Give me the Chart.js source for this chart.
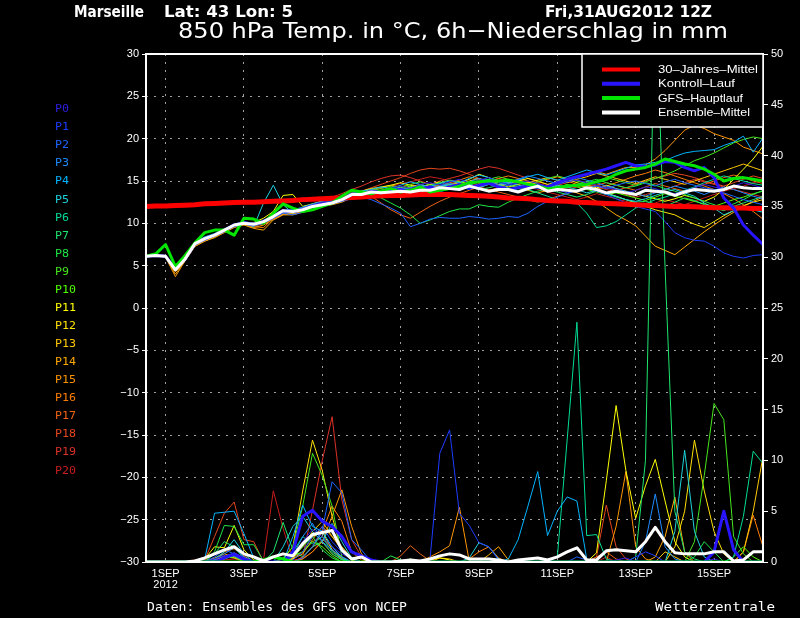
<!DOCTYPE html>
<html>
<head>
<meta charset="utf-8">
<title>Marseille 850 hPa Ensemble</title>
<script src="https://cdn.jsdelivr.net/npm/chart.js@4/dist/chart.umd.min.js"></script>
<style>
  html, body { margin: 0; padding: 0; background: #000; }
  #wrap { width: 800px; height: 618px; }
</style>
</head>
<body>
<div id="wrap"><canvas id="chart" width="800" height="618"></canvas></div>
<script>
// ===== Time axis (hours after 31AUG2012 12Z, 6h steps) =====
const stepHours = 6;
const hourMax = 378;
const tickHours = [12, 60, 108, 156, 204, 252, 300, 348];
const tickText = [['1SEP', '2012'], '3SEP', '5SEP', '7SEP', '9SEP', '11SEP', '13SEP', '15SEP'];

// ===== 850 hPa temperature (°C) =====
const tempClimate = [
  12.0,12.05,12.05,12.1,12.15,12.2,12.3,12.35,
  12.4,12.45,12.5,12.5,12.55,12.6,12.65,12.7,
  12.8,12.85,12.9,12.95,13.0,13.05,13.1,13.2,
  13.25,13.3,13.3,13.35,13.4,13.4,13.4,13.4,
  13.35,13.3,13.25,13.2,13.1,13.0,12.95,12.9,
  12.8,12.7,12.65,12.6,12.5,12.45,12.4,12.35,
  12.3,12.25,12.2,12.15,12.1,12.05,12.0,12.0,
  11.95,11.9,11.85,11.85,11.8,11.8,11.75,11.75
];
const tempControl = [
  6.1,6.2,6.1,4.6,5.8,7.6,8.2,8.6,
  9.2,9.8,10.0,9.9,10.2,10.8,11.5,11.4,
  11.6,12.0,12.3,12.5,12.8,13.4,13.5,13.7,
  13.6,13.9,14.0,13.8,14.1,14.3,14.0,14.3,
  14.6,14.2,14.5,14.8,14.3,14.0,14.2,14.4,
  14.5,14.3,14.8,15.2,15.5,15.8,16.1,16.4,
  16.8,17.2,16.8,16.7,16.9,17.3,17.2,16.6,
  16.2,16.6,15.4,13.0,11.8,9.8,8.6,7.5
];
const tempGfs = [
  6.1,6.4,7.5,4.9,6.2,7.7,8.9,9.2,
  9.2,8.6,10.6,10.5,10.0,11.2,12.3,11.8,
  11.4,11.6,12.0,12.4,13.2,13.9,13.7,13.5,
  13.8,14.1,13.7,13.9,14.3,13.7,13.9,14.1,
  14.4,14.8,14.9,15.0,15.0,15.1,14.9,14.6,
  14.4,14.1,14.2,14.4,14.5,14.6,14.9,15.2,
  15.8,16.2,16.4,16.6,17.0,17.6,17.3,17.0,
  16.8,16.4,15.8,15.0,15.3,15.4,15.2,15.0
];
const tempMean = [
  6.1,6.2,6.1,4.5,5.8,7.6,8.2,8.6,
  9.2,9.8,10.0,9.9,10.2,10.8,11.5,11.4,
  11.6,12.0,12.2,12.4,12.8,13.4,13.4,13.7,
  13.6,13.7,13.8,13.7,13.9,13.9,14.2,14.1,
  14.0,14.4,14.1,13.8,14.0,14.0,13.7,14.1,
  14.4,13.8,14.0,13.9,13.8,14.2,14.0,13.6,
  13.8,13.6,13.4,13.9,13.8,13.7,13.3,13.7,
  14.0,13.9,13.8,14.0,14.4,14.2,14.1,14.1
];
const tempP0 = [
  6.1,6.2,6.0,4.5,5.9,7.7,8.3,8.7,
  9.3,9.9,10.2,10.0,10.4,11.0,11.6,11.5,
  11.8,12.2,12.5,12.8,13.1,13.6,13.5,13.9,
  13.8,14.2,14.4,14.1,14.6,14.8,14.5,14.9,
  15.2,14.8,15.1,15.4,14.9,14.6,14.8,15.0,
  14.7,14.3,14.6,14.9,15.1,14.8,14.5,14.2,
  14.0,13.6,13.9,14.3,14.1,13.7,13.5,13.8,
  14.2,14.6,14.3,14.0,14.4,14.8,14.5,14.2
];
const tempP1 = [
  6.1,6.3,6.1,4.7,5.8,7.5,8.0,8.5,
  9.0,9.7,9.9,9.8,10.1,10.6,11.3,11.3,
  11.5,11.9,12.1,12.3,12.7,13.2,13.3,13.5,
  13.4,13.6,13.9,13.5,13.8,14.0,13.7,14.1,
  14.3,14.0,14.4,14.6,14.2,14.5,14.8,14.4,
  14.1,14.3,14.0,13.6,13.9,14.2,13.8,13.4,
  12.9,12.4,12.0,11.7,11.4,10.2,8.9,8.3,
  8.0,7.9,7.3,6.5,6.1,5.9,6.2,6.3
];
const tempP2 = [
  6.0,6.2,6.1,4.6,5.7,7.4,8.1,8.5,
  9.1,9.6,9.9,9.7,10.0,10.6,11.2,11.0,
  11.3,11.7,12.0,12.3,12.6,12.9,13.1,12.8,
  12.3,11.8,11.2,9.6,10.0,10.5,10.7,10.6,
  10.6,10.8,10.7,10.5,10.6,10.8,10.7,11.2,
  12.0,12.6,13.1,13.5,13.9,14.2,14.4,14.1,
  14.5,14.8,15.0,14.7,14.4,14.9,15.2,14.8,
  14.5,14.2,14.0,13.6,13.2,12.8,12.5,12.2
];
const tempP3 = [
  6.1,6.2,6.2,4.6,5.8,7.6,8.2,8.7,
  9.2,9.8,10.1,9.9,10.3,10.9,11.4,11.3,
  11.7,12.1,12.3,12.6,12.9,13.4,13.6,13.8,
  13.9,14.1,13.8,14.2,14.5,14.1,14.4,14.7,
  14.5,14.9,15.3,15.0,14.6,14.9,15.2,15.6,
  15.3,15.0,14.7,14.9,15.4,15.1,14.8,14.4,
  14.1,13.8,13.5,13.2,13.6,14.0,14.4,14.1,
  13.8,13.4,13.9,14.3,14.0,13.6,13.2,12.9
];
const tempP4 = [
  6.1,6.3,6.1,4.6,5.9,7.7,8.3,8.6,
  9.2,9.9,10.2,10.0,10.3,10.9,11.5,11.6,
  11.9,12.3,12.6,12.8,13.2,13.5,13.8,14.0,
  14.3,14.1,14.5,14.9,14.6,14.3,14.7,15.0,
  14.8,15.3,15.7,15.4,15.0,14.7,15.1,15.5,
  15.8,15.4,15.1,15.5,15.9,16.3,16.0,15.7,
  16.1,16.5,16.9,17.0,17.2,17.4,17.9,18.3,
  18.5,18.6,18.7,19.2,19.6,20.3,18.4,20.1
];
const tempP5 = [
  6.1,6.2,6.1,4.7,5.9,7.8,8.4,8.8,
  9.3,9.8,10.0,9.6,12.4,14.5,12.2,11.2,
  11.6,12.0,12.3,12.5,12.8,13.3,13.5,13.6,
  13.8,14.0,14.2,13.9,14.3,14.0,14.3,14.6,
  14.2,14.5,14.2,14.6,14.4,14.8,14.5,14.3,
  14.6,14.2,14.5,14.3,14.0,13.6,13.9,13.5,
  13.2,12.8,12.6,12.9,13.3,13.7,14.0,13.6,
  13.2,12.4,11.8,11.0,11.5,12.0,11.6,11.3
];
const tempP6 = [
  6.1,6.2,6.0,4.6,5.8,7.6,8.1,8.5,
  9.1,9.7,10.0,9.9,10.1,10.7,11.3,11.4,
  11.6,12.0,12.2,12.4,12.7,13.1,13.4,13.7,
  13.8,13.6,13.9,14.2,14.0,14.4,14.7,14.3,
  14.1,14.5,14.9,15.2,14.8,14.5,14.3,14.0,
  13.6,13.2,12.8,12.6,12.4,11.2,9.5,9.7,
  10.2,11.0,11.8,12.3,12.8,13.1,13.5,13.9,
  14.3,14.8,15.2,15.6,15.3,15.0,14.7,14.5
];
const tempP7 = [
  6.1,6.2,6.1,4.6,5.8,7.6,8.2,8.6,
  9.1,9.8,10.0,9.9,10.2,10.8,11.4,11.5,
  11.6,12.0,12.3,12.4,12.8,13.3,13.4,13.8,
  13.5,13.9,14.0,13.8,14.1,14.3,14.1,14.4,
  14.6,14.3,14.0,14.2,14.5,14.2,13.9,14.1,
  14.4,14.0,13.7,13.4,13.1,13.4,13.8,13.5,
  13.1,12.8,12.5,12.6,12.3,12.0,12.5,13.0,
  12.7,12.2,11.8,11.5,12.0,12.4,12.8,13.2
];
const tempP8 = [
  6.1,6.2,6.0,4.5,5.8,7.5,8.2,8.6,
  9.2,9.8,10.1,9.9,10.2,10.8,11.5,11.4,
  11.7,12.1,12.3,12.5,12.8,13.2,13.4,13.3,
  13.0,12.4,11.8,11.0,10.0,10.4,10.9,11.4,
  11.7,11.7,12.2,12.0,11.9,12.5,13.0,13.4,
  13.8,14.1,14.4,14.2,14.6,14.9,15.2,14.8,
  14.5,14.2,14.4,14.8,14.5,14.1,13.8,13.4,
  13.0,12.6,12.2,11.8,12.3,12.8,13.4,13.9
];
const tempP9 = [
  6.1,6.2,6.1,4.6,5.9,7.7,8.2,8.7,
  9.3,9.9,10.1,10.0,10.3,10.9,11.5,11.5,
  11.8,12.2,12.4,12.7,13.0,13.5,13.6,13.9,
  14.1,14.4,14.2,14.6,14.9,14.5,14.8,15.1,
  14.9,14.6,14.9,15.2,15.5,15.2,14.9,14.6,
  14.9,15.3,15.6,15.3,15.0,14.7,15.0,15.4,
  15.1,14.8,14.5,14.9,15.3,15.7,16.2,16.8,
  17.4,17.8,18.3,18.9,19.5,19.9,20.2,20.0
];
const tempP10 = [
  6.1,6.2,6.1,4.6,5.8,7.6,8.1,8.6,
  9.2,9.7,10.0,9.8,10.1,10.7,11.4,11.4,
  11.6,12.0,12.2,12.5,12.8,13.3,13.5,13.7,
  13.6,13.9,14.1,14.4,14.2,14.0,14.3,14.6,
  14.4,14.1,14.4,14.7,14.3,14.0,14.2,14.5,
  14.2,13.9,14.2,14.6,14.3,14.0,13.7,13.4,
  13.6,13.3,13.0,12.7,13.1,13.5,13.2,12.9,
  12.6,12.3,12.0,12.4,12.8,13.1,13.5,13.8
];
const tempP11 = [
  6.1,6.2,6.1,4.7,5.9,7.6,8.2,8.7,
  9.2,9.8,10.0,10.1,10.6,11.4,13.3,13.4,
  12.0,12.3,12.6,12.8,13.1,13.6,13.8,14.1,
  14.3,14.5,14.8,14.5,14.2,14.6,14.9,14.5,
  14.8,15.2,15.8,15.4,15.0,14.7,15.0,15.3,
  15.0,14.6,14.9,15.2,14.8,14.5,14.2,14.5,
  14.1,13.8,13.5,13.2,12.9,12.6,12.9,13.3,
  13.0,12.6,13.1,14.0,15.2,16.4,17.6,19.1
];
const tempP12 = [
  6.1,6.2,6.0,4.5,5.8,7.5,8.0,8.5,
  9.1,9.7,10.0,9.8,10.1,10.7,11.3,11.3,
  11.5,11.9,12.2,12.4,12.7,13.2,13.4,13.6,
  13.9,14.2,14.0,14.3,14.6,14.3,14.0,14.4,
  14.7,15.0,15.3,14.9,14.6,14.3,14.6,14.9,
  14.6,14.3,14.0,14.3,14.6,14.2,13.9,13.6,
  13.2,12.8,12.4,12.0,11.6,11.3,11.0,10.4,
  9.9,9.5,10.2,10.9,11.5,12.1,12.5,12.8
];
const tempP13 = [
  6.1,6.2,6.1,4.4,5.7,7.4,8.0,8.4,
  9.0,9.6,9.9,9.7,10.0,10.6,11.2,11.2,
  11.5,11.9,12.1,12.4,12.7,13.1,13.3,13.5,
  13.7,13.5,13.8,14.1,13.9,14.2,14.5,14.2,
  14.0,14.3,14.6,14.9,14.5,14.8,15.1,14.8,
  15.1,15.4,15.1,14.8,15.2,15.5,15.9,15.6,
  15.3,15.0,14.7,15.1,15.5,15.2,14.9,14.6,
  15.0,15.4,15.8,16.2,16.6,17.0,16.6,16.2
];
const tempP14 = [
  6.1,6.1,6.0,4.0,5.6,7.3,7.9,8.3,
  8.9,9.5,9.8,9.4,9.2,10.4,11.0,11.0,
  11.3,11.7,12.0,12.2,12.5,13.0,13.2,13.4,
  13.6,13.3,13.6,13.9,13.7,14.0,14.3,14.0,
  14.2,14.5,14.2,13.9,14.2,14.5,14.2,13.9,
  13.6,13.9,14.2,13.9,13.6,13.2,12.6,11.8,
  11.0,10.4,9.7,8.5,7.3,6.8,6.3,7.2,
  8.1,9.0,9.8,10.6,11.3,12.0,12.6,13.1
];
const tempP15 = [
  6.1,6.2,6.0,3.7,5.6,7.3,7.9,8.4,
  9.0,9.6,9.9,9.5,9.8,10.5,11.1,11.1,
  11.4,11.8,12.1,12.3,12.6,13.1,13.3,13.6,
  13.8,14.0,13.7,14.0,14.3,14.6,14.3,14.6,
  14.9,14.6,14.3,14.6,14.9,15.2,14.9,14.6,
  14.9,15.2,15.5,15.2,15.5,15.8,16.1,15.8,
  16.2,16.6,16.6,16.9,17.6,18.6,19.8,21.0,
  21.6,21.2,20.6,20.2,19.8,19.0,18.6,18.2
];
const tempP16 = [
  6.1,6.2,6.1,4.3,5.7,7.4,8.0,8.5,
  9.1,9.7,10.0,9.6,9.5,10.6,11.3,11.2,
  11.5,11.9,12.2,12.5,12.8,13.4,13.7,14.0,
  14.2,14.5,14.3,14.6,14.3,14.0,14.4,14.8,
  15.1,15.5,15.2,14.9,15.3,15.6,15.3,15.0,
  14.7,14.4,14.7,15.0,14.6,14.3,14.0,14.4,
  14.8,15.2,15.6,15.9,16.3,16.0,15.6,15.2,
  14.8,14.4,14.0,13.5,12.9,12.2,11.4,10.5
];
const tempP17 = [
  6.1,6.2,6.0,4.4,5.7,7.5,8.1,8.5,
  9.1,9.6,9.9,9.7,10.0,10.5,11.1,11.1,
  11.5,11.9,12.3,12.6,13.0,13.5,13.6,13.2,
  12.4,11.6,11.0,10.6,11.3,12.0,12.6,13.1,
  13.5,13.9,14.3,14.0,13.7,13.4,13.1,12.8,
  12.5,12.8,13.2,13.5,13.9,14.2,14.5,14.8,
  14.5,14.2,13.9,14.3,14.7,14.4,14.1,13.8,
  14.2,14.6,15.0,15.4,15.7,15.4,15.0,14.7
];
const tempP18 = [
  6.1,6.2,6.1,4.6,5.8,7.6,8.2,8.6,
  9.2,9.8,10.1,9.9,10.2,10.7,11.4,11.4,
  11.7,12.1,12.4,12.7,13.0,13.5,13.8,14.2,
  14.6,15.0,15.4,15.9,16.3,16.5,16.4,16.5,
  16.2,15.8,15.3,14.9,14.5,14.8,15.1,14.8,
  14.5,14.2,14.5,14.8,15.1,14.8,14.5,14.2,
  13.9,14.2,14.6,15.0,15.3,15.6,15.9,15.7,
  15.4,15.0,14.7,14.4,14.8,15.2,15.6,15.3
];
const tempP19 = [
  6.1,6.2,6.1,4.5,5.8,7.6,8.1,8.6,
  9.2,9.8,10.1,9.9,10.3,10.9,11.5,11.5,
  11.8,12.3,12.7,13.1,13.5,14.0,14.4,14.9,
  15.3,15.6,15.7,15.4,15.0,14.6,15.0,15.3,
  15.6,16.0,16.4,16.7,16.5,16.1,15.7,15.3,
  14.9,14.6,14.3,14.0,14.3,14.6,14.3,14.0,
  13.7,13.4,13.1,13.4,13.7,14.0,14.4,14.8,
  15.2,14.9,14.6,14.3,14.0,13.7,13.4,13.1
];
const tempP20 = [
  6.1,6.2,6.0,4.5,5.8,7.5,8.1,8.5,
  9.1,9.7,10.0,9.8,10.1,10.8,11.4,11.3,
  11.6,12.0,12.3,12.6,12.9,13.3,13.6,13.9,
  14.1,14.4,14.7,14.9,15.2,15.5,15.3,15.0,
  14.7,14.4,14.7,15.0,15.3,15.0,14.6,14.3,
  14.0,13.7,13.4,13.1,12.8,13.1,13.5,13.2,
  12.9,12.6,12.3,12.0,12.4,12.8,12.5,12.2,
  12.6,13.0,13.4,13.8,14.1,14.4,14.8,15.1
];

// ===== 6h precipitation (mm) =====
const rainControl = [
  0,0,0,0,0,0,0,0,0.4,0.8,0.3,0,0,0,0,1.0,
  4.5,5.1,4.0,3.5,2.5,1.0,0.6,0.2,0,0,0,0,0,0,0,0,
  0,0,0,0,0,0,0,0,0,0,0,0,0,0,0,0,
  0,0,0,0,0,0,0,0,0,0,1.0,5.0,1.2,0,0,0
];
const rainGfs = [
  0,0,0,0,0,0,0,0,0,0,0,0,0.2,0.5,0.3,0,
  0,0,0,0,0,0,0,0,0,0,0,0,0,0,0,0,
  0,0,0,0,0,0,0,0,0,0,0,0,0,0,0,0,
  0,0,0,0,0,0,0,0,0,0,0,0,0,0,0,0
];
const rainMean = [
  0,0,0,0,0,0.1,0.4,0.8,1.2,1.5,0.8,0.5,0.1,0.5,0.8,0.6,
  1.8,2.7,2.9,3.1,1.2,0.3,0.5,0,0,0,0.1,0.2,0.1,0.3,0.6,0.8,
  0.7,0.3,0.3,0.3,0.2,0,0.2,0.3,0.4,0.2,0.5,1.0,1.4,0.2,0.2,1.1,
  1.2,1.1,1.0,2.0,3.4,2.0,0.9,0.8,0.8,0.8,1.0,1.0,0.1,0.2,1.0,1.0
];
const rainP0 = [
  0,0,0,0,0,0,0,0.3,0.6,0.8,0.2,0,0,0,0,0.5,
  2.0,3.2,2.5,1.5,0.8,0.3,0,0,0,0,0,0,0,0,0,0,
  0,0,0,0,0,0,0,0,0,0,0,0,0,0,0,0,
  0.2,0.4,0,0,0,0,0,0,0,0,0.3,0,0,0,0,0
];
const rainP1 = [
  0,0,0,0,0,0,0,0,0.4,0.6,0.1,0,0,0,0,0.2,
  1.0,2.5,3.5,2.0,1.0,0.3,0,0,0,0,0,0,0,0.3,10.7,13.0,
  4.8,3.6,1.9,1.5,0.2,0,0,0,0,0,0,0,0,0,0,0,
  0,0,0.5,1.0,0.6,0,0,0,0,0,0,0,0,0,0,0
];
const rainP2 = [
  0,0,0,0,0,0,0,0.5,1.2,0.8,0.3,0,0,0,0,0,
  0.4,1.5,3.2,7.9,6.8,2.2,1.2,0,0,0,0,0,0,0,0,0,
  0,0,0,0,0,0,0,0,0,0,0,0,0.5,0.2,0,0,
  0,0,0,0,0,0,0,0,0,0,0,0,0,0,0,0
];
const rainP3 = [
  0,0,0,0,0,0,0,0.2,0.8,1.4,0.5,0,0,0,0,0.6,
  2.5,3.8,2.0,1.2,0.5,0,0,0,0,0,0,0,0,0,0,0,
  0,0,0,0,0,0,0,0,0,0,0,0,0,0,0,0,
  0,0,0,2.0,6.7,1.5,0.3,0,0,0,0,0,0,0,0,0
];
const rainP4 = [
  0,0,0,0,0,0,0.3,4.8,4.9,5.0,2.8,0.4,0,0,0,2.5,
  5.6,3.5,3.0,1.5,0.5,0,0,0,0,0,0,0,0,0,0,0,
  0,0,0,0,0,0.3,2.2,5.5,8.9,2.6,5.0,6.4,6.0,0.3,0,0,
  0,0,0,0,0,0,0,0,0,0,0,0,0,0,0,0
];
const rainP5 = [
  0,0,0,0,0,0,0,0.3,1.0,2.2,0.8,0,0,0,1.5,3.5,
  4.5,3.0,2.0,3.8,2.0,0.4,0,0,0,0,0,0,0,0,0,0,
  0,0.4,1.9,1.5,0.3,0,0,0,0,0,0,0,0,0,0,0,
  0,0,0,0,0,0,3.0,11.0,3.0,0.5,0,0,0,0,0,0
];
const rainP6 = [
  0,0,0,0,0,0,0,0,0.5,0.9,0.2,0,0,0,0,1.0,
  2.5,1.8,2.5,1.0,0.3,0,0,0,0,0,0,0,0,0,0,0,
  0,0,0,0,0,0,0,0,0,0,0.5,12.0,23.6,2.6,2.7,0.3,
  0,0,0,0,0,0,0,0,0,0,0,0,0.5,4.5,10.9,9.7
];
const rainP7 = [
  0,0,0,0,0,0,0,0.8,2.0,1.5,0.3,0,0,1.0,3.9,1.2,
  0.5,1.5,2.0,0.8,0.2,0,0,0,0,0,0,0,0,0,0,0,
  0,0,0,0,0,0,0,0,0,0,0,0,0,0,0,0,
  0,0,0.5,10.0,57.0,29.0,5.0,1.0,0.3,0,0,0,0,0,0,0
];
const rainP8 = [
  0,0,0,0,0,0,0,1.0,3.6,3.5,1.7,1.7,0.1,0,0,0.5,
  1.5,2.5,1.2,0.4,0,0,0,0,0,0.6,0.2,0,0,0,0,0,
  0,0,0,0,0,0,0,0,0,0,0,0,0,0,0,0,
  0,0,0,0,0,0,0,0,0.5,2.0,1.0,0,0,0,0,0
];
const rainP9 = [
  0,0,0,0,0,0,0,0,0.3,0.6,0.2,0,0,0,0.4,1.5,
  5.5,10.7,8.5,5.5,0.5,0,0,0,0,0,0,0,0,0,0,0,
  0,0,0,0,0,0,0,0,0,0,0,0,0,0,0,0,
  0,0,0,0,0,0,0,0,2.0,8.5,15.6,14.0,2.5,0.8,0,0
];
const rainP10 = [
  0,0,0,0,0,0,0,0,0.4,0.5,0,0,0,0,0.3,0.6,
  1.0,2.0,1.5,0.6,0,0,0,0,0,0,0,0.3,0,0,0,0,
  0,0,0,0,0,0,0,0,0,0,0,0,0,0,0,0,
  0,0,0,0,0,0,0,0,0,0,0,0,0.5,1.5,0.5,0
];
const rainP11 = [
  0,0,0,0,0,0,0.3,1.5,1.4,3.6,1.2,0.2,0,0,0,0.3,
  1.0,2.5,3.0,1.2,0.3,0,0,0,0,0,0,0,0,0.2,0.4,0.2,
  0,0,0,0,0,0,0,0,0,0,0,0,0,0,0.9,8.0,
  15.4,9.0,4.3,7.5,10.1,6.0,2.0,0.5,0,0,0,0,0,0,0,0
];
const rainP12 = [
  0,0,0,0,0,0,0,0.2,0.5,0.8,0.2,0,0,0,0.3,1.5,
  7.0,12.0,9.0,4.5,1.0,0.2,0,0,0,0,0,0,0,0,0,0,
  0,0,0,0,0,0,0,0,0,0,0,0,0,0,0,0,
  0,0,0,0,0,0,1.5,5.0,12.0,7.0,3.0,0.8,0,0,0,0
];
const rainP13 = [
  0,0,0,0,0,0,0,0.2,0.6,0.4,0.1,0,0,0,0,0.4,
  1.5,3.0,4.0,2.5,1.5,0.4,0,0,0,0,0,0,0,0,0.4,0.3,
  0,0,0,0,0,0,0,0,0,0,0,0,0,0,0,0,
  0,0,0,0,0,1.0,0.5,0,0,0,0,0,0,1.0,5.0,10.4
];
const rainP14 = [
  0,0,0,0,0,0,0,0,0.3,0.9,0.4,0,0,0,0,0.3,
  0.8,2.2,3.5,2.5,1.2,0.3,0,0,0,0,0,0,0,0,0,0,
  0,0,0,0.7,1.5,0.2,0,0,0,0,0,0,0,0,0,0,
  0,0,0,0,0.5,2.5,6.4,1.0,0,0,0,0,0,0,0,0
];
const rainP15 = [
  0,0,0,0,0,0,0,0.4,0.8,0.5,0.2,0,0,0,0,0,
  0.3,1.0,2.0,4.5,7.1,3.5,0.8,0,0,0,0,0,0,0.5,1.0,1.6,
  5.4,0.1,0,0,0,0,0,0,0,0,0,0,0,0,0,0,
  3.5,8.9,1.5,0.3,0,0,0,0,0,0,0,0,0,0,0,0
];
const rainP16 = [
  0,0,0,0,0,0,0,0,1.0,1.3,0.6,0,0,0,0,0,
  0.4,1.5,3.0,5.5,4.0,1.0,0.2,0,0,0,0,0,0,0,0,0,
  0,0.3,1.0,1.5,0.4,0,0,0,0,0,0,0,0,0,0,0,
  0,0,0,0,0,0,0,0,0,0,0,0,0,1.0,4.6,1.5
];
const rainP17 = [
  0,0,0,0,0,0.2,0.3,0.2,0.5,0.4,0.2,0,0,0,0,0.5,
  1.0,2.0,2.5,1.5,0.4,0,0,0,0,0,0.6,1.6,0.8,0.1,0,0,
  0,0,0,0,0,0,0,0,0,0,0,0,0,0,0.5,1.0,
  0.3,0,0,0,0,0,0,0,0,0,0,0,0,0,0,0
];
const rainP18 = [
  0,0,0,0,0,0,0.2,2.5,4.8,5.9,2.2,2.0,0,0,0,0,
  0.5,1.5,2.0,0.8,0.2,0,0,0,0,0,0,0,0,0,0,0,
  0,0,0,0,0,0,0,0,0,0,0,0,0,0,0.5,5.6,
  1.5,0.3,0,0,0,0,0,0,0,0,0,0,0,0,0,0
];
const rainP19 = [
  0,0,0,0,0,0,0,0,0.4,0.6,0.2,0,0,0,0,0,
  0.5,5.1,10.0,14.3,6.1,2.2,0.5,0,0,0,0,0,0,0,0,0,
  0,0,0,0,0,0,0,0,0,0,0,0,0,0,0,0,
  0,0,0,0,0,0,0,0,0,0,0,0,0,0,0,0
];
const rainP20 = [
  0,0,0,0,0,0,0,0,0.2,0.3,0.1,0,0.2,7.0,3.3,0.2,
  0.3,1.0,2.2,1.5,0.5,0,0,0,0,0,0,0,0,0,0,0,
  0,0,0,0,0,0,0,0,0,0,0,0,0,0,0,0.5,
  0,0,0,0,0,0,0,0,0,0,0,0,0,0,0,0
];

const memberNames = ['P0','P1','P2','P3','P4','P5','P6','P7','P8','P9','P10',
  'P11','P12','P13','P14','P15','P16','P17','P18','P19','P20'];
const memberColors = ['#2e1ee6','#1e3cff','#1e64ff','#1e8cff','#00b4ff','#1ed2dc',
  '#00dc96','#1ee66e','#1ee646','#46e61e','#50ff00','#ffff00','#ffe100','#ffc800',
  '#ffaa00','#ff9600','#ff7d00','#f06414','#e6461e','#dc3228','#c81e1e'];
const memberTemps = [tempP0, tempP1, tempP2, tempP3, tempP4, tempP5, tempP6, tempP7,
  tempP8, tempP9, tempP10, tempP11, tempP12, tempP13, tempP14, tempP15, tempP16,
  tempP17, tempP18, tempP19, tempP20];
const memberRain = [rainP0, rainP1, rainP2, rainP3, rainP4, rainP5, rainP6, rainP7,
  rainP8, rainP9, rainP10, rainP11, rainP12, rainP13, rainP14, rainP15, rainP16,
  rainP17, rainP18, rainP19, rainP20];

const legendItems = [
  ['30\u2013Jahres\u2013Mittel', '#ff0000', 100],
  ['Kontroll\u2013Lauf', '#2814ff', 77],
  ['GFS\u2013Hauptlauf', '#00e600', 85],
  ['Ensemble\u2013Mittel', '#ffffff', 92]
];

// ===== Build datasets =====
function lineSet(vals, color, width, axis, order) {
  return {
    data: vals.map((v, i) => ({ x: i * stepHours, y: v })),
    borderColor: color,
    borderWidth: width,
    yAxisID: axis,
    order: order,
    pointRadius: 0,
    tension: 0,
    fill: false,
    borderJoinStyle: width > 1 ? 'round' : 'miter'
  };
}

const datasets = [];
memberRain.forEach((vals, k) => datasets.push(lineSet(vals, memberColors[k], 1, 'y2', 20)));
memberTemps.forEach((vals, k) => datasets.push(lineSet(vals, memberColors[k], 1, 'y', 20)));
datasets.push(lineSet(tempClimate, '#ff0000', 5, 'y', 6));
datasets.push(lineSet(rainControl, '#2814ff', 3, 'y2', 5));
datasets.push(lineSet(tempControl, '#2814ff', 3, 'y', 5));
datasets.push(lineSet(rainGfs, '#00e600', 3, 'y2', 4));
datasets.push(lineSet(tempGfs, '#00e600', 3, 'y', 4));
datasets.push(lineSet(rainMean, '#ffffff', 3, 'y2', 3));
datasets.push(lineSet(tempMean, '#ffffff', 3, 'y', 3));

// ===== Text helper: draw text stretched to a given width =====
function fitText(ctx, text, x, y, w, font, color) {
  ctx.save();
  ctx.font = font;
  ctx.fillStyle = color;
  ctx.textBaseline = 'middle';
  ctx.textAlign = 'left';
  const m = ctx.measureText(text).width;
  ctx.translate(x, y);
  ctx.scale(w / m, 1);
  ctx.fillText(text, 0, 0);
  ctx.restore();
}

const decorations = {
  id: 'decorations',
  beforeDraw(chart) {
    const ctx = chart.ctx;
    ctx.save();
    ctx.fillStyle = '#000';
    ctx.fillRect(0, 0, chart.width, chart.height);
    ctx.restore();
  },
  afterDatasetsDraw(chart) {
    const ctx = chart.ctx;
    const a = chart.chartArea;
    ctx.save();
    // frame
    ctx.strokeStyle = '#fff';
    ctx.lineWidth = 2;
    ctx.strokeRect(a.left, a.top, a.right - a.left, a.bottom - a.top);
    // legend box in the top right corner
    const bx = a.right - 181, by = a.top, bw = 181, bh = 73;
    ctx.fillStyle = '#000';
    ctx.fillRect(bx, by, bw, bh);
    ctx.lineWidth = 1.5;
    ctx.strokeRect(bx, by, bw, bh);
    legendItems.forEach((item, k) => {
      const y = by + 15.5 + k * 14.3;
      ctx.strokeStyle = item[1];
      ctx.lineWidth = 4;
      ctx.beginPath();
      ctx.moveTo(bx + 20, y);
      ctx.lineTo(bx + 58, y);
      ctx.stroke();
      fitText(ctx, item[0], bx + 76, y + 0.5, item[2], '11px "Liberation Sans"', '#fff');
    });
    ctx.restore();
  },
  afterDraw(chart) {
    const ctx = chart.ctx;
    fitText(ctx, 'Marseille', 74, 12.5, 70, 'bold 16px "DejaVu Sans"', '#fff');
    fitText(ctx, 'Lat: 43 Lon: 5', 164, 12.5, 129, 'bold 16px "DejaVu Sans"', '#fff');
    fitText(ctx, 'Fri,31AUG2012 12Z', 545, 12.5, 167, 'bold 16px "DejaVu Sans"', '#fff');
    fitText(ctx, '850 hPa Temp. in \u00b0C, 6h\u2212Niederschlag in mm', 178, 32.5, 550,
      '22px "DejaVu Sans"', '#fff');
    memberNames.forEach((name, k) => {
      fitText(ctx, name, 55, 109.3 + k * 18.07, name.length === 2 ? 14 : 21,
        '11px "DejaVu Sans Mono"', memberColors[k]);
    });
    fitText(ctx, 'Daten: Ensembles des GFS von NCEP', 147, 607.5, 260,
      '13px "DejaVu Sans Mono"', '#fff');
    fitText(ctx, 'Wetterzentrale', 655, 607.5, 120, '13px "DejaVu Sans Mono"', '#fff');
  }
};

const tickFont = { family: '"Liberation Sans", Arial, sans-serif', size: 11, lineHeight: 1.0 };

new Chart(document.getElementById('chart').getContext('2d'), {
  type: 'line',
  data: { datasets: datasets },
  options: {
    responsive: false,
    animation: false,
    devicePixelRatio: 1,
    layout: { padding: { top: 54, left: 0, right: 0, bottom: 0 } },
    plugins: { legend: { display: false }, tooltip: { enabled: false } },
    scales: {
      x: {
        type: 'linear',
        min: 0,
        max: hourMax,
        afterBuildTicks: s => { s.ticks = tickHours.map(v => ({ value: v })); },
        afterFit: s => { s.height = 56; },
        grid: { color: '#a0a0a0', lineWidth: 1, drawTicks: false, borderDash: [2, 6] },
        border: { display: false, dash: [2, 6] },
        ticks: {
          color: '#fff',
          font: tickFont,
          padding: 6,
          maxRotation: 0,
          autoSkip: false,
          callback: v => tickText[tickHours.indexOf(v)]
        }
      },
      y: {
        position: 'left',
        min: -30,
        max: 30,
        afterFit: s => { s.width = 146; },
        grid: { color: '#a0a0a0', lineWidth: 1, tickColor: '#fff', tickLength: 4, borderDash: [2, 6] },
        border: { display: false, dash: [2, 6] },
        ticks: {
          stepSize: 5,
          color: '#fff',
          font: tickFont,
          padding: 3,
          callback: v => v < 0 ? '\u2212' + Math.abs(v) : String(v)
        }
      },
      y2: {
        position: 'right',
        min: 0,
        max: 50,
        afterFit: s => { s.width = 37; },
        grid: { drawOnChartArea: false, tickColor: '#fff', tickLength: 5 },
        border: { display: false },
        ticks: { stepSize: 5, color: '#fff', font: tickFont, padding: 3 }
      }
    }
  },
  plugins: [decorations]
});
</script>
</body>
</html>
